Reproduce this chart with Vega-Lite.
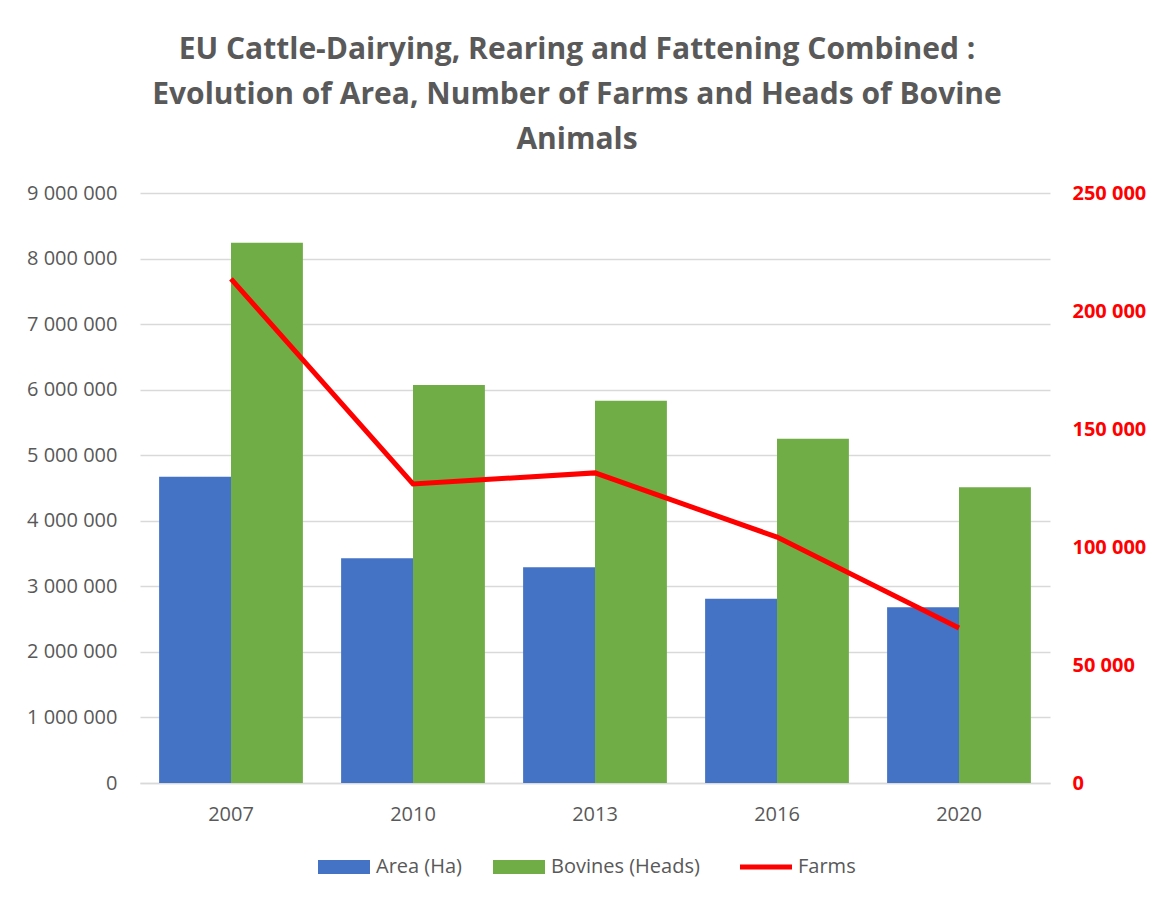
{
  "$schema": "https://vega.github.io/schema/vega-lite/v6.json",
  "width": 910,
  "height": 590,
  "autosize": {"type": "none"},
  "padding": {"left": 140, "top": 193, "right": 103, "bottom": 118},
  "background": "white",
  "title": {
    "text": ["EU Cattle-Dairying, Rearing and Fattening Combined :", "Evolution of Area, Number of Farms and Heads of Bovine", "Animals"],
    "font": "Open Sans",
    "fontSize": 30,
    "fontWeight": "bold",
    "color": "#595959",
    "lineHeight": 45,
    "anchor": "middle",
    "dx": -18,
    "offset": 28
  },
  "data": {
    "values": [
      {"year": "2007", "series": "Area (Ha)", "value": 4670000},
      {"year": "2007", "series": "Bovines (Heads)", "value": 8240000},
      {"year": "2007", "series": "Farms", "value": 213600},
      {"year": "2010", "series": "Area (Ha)", "value": 3430000},
      {"year": "2010", "series": "Bovines (Heads)", "value": 6070000},
      {"year": "2010", "series": "Farms", "value": 126700},
      {"year": "2013", "series": "Area (Ha)", "value": 3290000},
      {"year": "2013", "series": "Bovines (Heads)", "value": 5830000},
      {"year": "2013", "series": "Farms", "value": 131400},
      {"year": "2016", "series": "Area (Ha)", "value": 2810000},
      {"year": "2016", "series": "Bovines (Heads)", "value": 5250000},
      {"year": "2016", "series": "Farms", "value": 104200},
      {"year": "2020", "series": "Area (Ha)", "value": 2680000},
      {"year": "2020", "series": "Bovines (Heads)", "value": 4510000},
      {"year": "2020", "series": "Farms", "value": 65700}
    ]
  },
  "encoding": {
    "x": {
      "field": "year",
      "type": "nominal",
      "scale": {"paddingInner": 0.21, "paddingOuter": 0.105},
      "axis": {
        "title": null,
        "labelAngle": 0,
        "labelFont": "Open Sans",
        "labelFontSize": 20,
        "labelColor": "#595959",
        "labelPadding": 21,
        "ticks": false,
        "domainColor": "#D9D9D9",
        "domainWidth": 1.5,
        "grid": false
      }
    },
    "color": {
      "field": "series",
      "type": "nominal",
      "scale": {"domain": ["Area (Ha)", "Bovines (Heads)", "Farms"], "range": ["#4472C4", "#70AD47", "#FF0000"]},
      "legend": {
        "orient": "bottom",
        "direction": "horizontal",
        "title": null,
        "labelFont": "Open Sans",
        "labelFontSize": 20,
        "labelColor": "#595959",
        "columnPadding": 30,
        "labelOffset": 22,
        "symbolSize": 2704,
        "offset": 33,
        "encode": {
          "symbols": {
            "update": {
              "shape": {"signal": "datum.value === 'Farms' ? 'stroke' : 'M-1,-0.27H1V0.27H-1Z'"},
              "fill": {"signal": "datum.value === 'Farms' ? 'transparent' : (datum.value === 'Area (Ha)' ? '#4472C4' : '#70AD47')"},
              "stroke": {"signal": "datum.value === 'Farms' ? '#FF0000' : 'transparent'"},
              "strokeWidth": {"signal": "datum.value === 'Farms' ? 5 : 0"},
              "opacity": {"value": 1},
              "fillOpacity": {"value": 1},
              "strokeOpacity": {"value": 1}
            }
          }
        }
      }
    }
  },
  "layer": [
    {
      "transform": [{"filter": "datum.series !== 'Farms'"}],
      "mark": {"type": "bar"},
      "encoding": {
        "xOffset": {"field": "series", "type": "nominal", "scale": {"domain": ["Area (Ha)", "Bovines (Heads)"], "paddingInner": 0, "paddingOuter": 0}},
        "y": {
          "field": "value",
          "type": "quantitative",
          "scale": {"domain": [0, 9000000], "nice": false},
          "axis": {
            "title": null,
            "values": [0, 1000000, 2000000, 3000000, 4000000, 5000000, 6000000, 7000000, 8000000, 9000000],
            "labelExpr": "replace(replace(format(datum.value, ','), ',', ' '), ',', ' ')",
            "labelFont": "Open Sans",
            "labelFontSize": 20,
            "labelColor": "#595959",
            "labelPadding": 23,
            "ticks": false,
            "domain": false,
            "grid": true,
            "gridColor": "#D9D9D9",
            "gridWidth": 1.5
          }
        }
      }
    },
    {
      "transform": [{"filter": "datum.series === 'Farms'"}],
      "mark": {"type": "line", "strokeWidth": 5},
      "encoding": {
        "y": {
          "field": "value",
          "type": "quantitative",
          "scale": {"domain": [0, 250000], "nice": false},
          "axis": {
            "orient": "right",
            "title": null,
            "values": [0, 50000, 100000, 150000, 200000, 250000],
            "labelExpr": "replace(format(datum.value, ','), ',', ' ')",
            "labelFont": "Open Sans",
            "labelFontSize": 20,
            "labelFontWeight": "bold",
            "labelColor": "#FF0000",
            "labelPadding": 22,
            "ticks": false,
            "domain": false,
            "grid": false
          }
        }
      }
    }
  ],
  "resolve": {"scale": {"y": "independent"}},
  "config": {
    "view": {"stroke": null},
    "legend": {"layout": {"bottom": {"anchor": "middle"}}}
  }
}
